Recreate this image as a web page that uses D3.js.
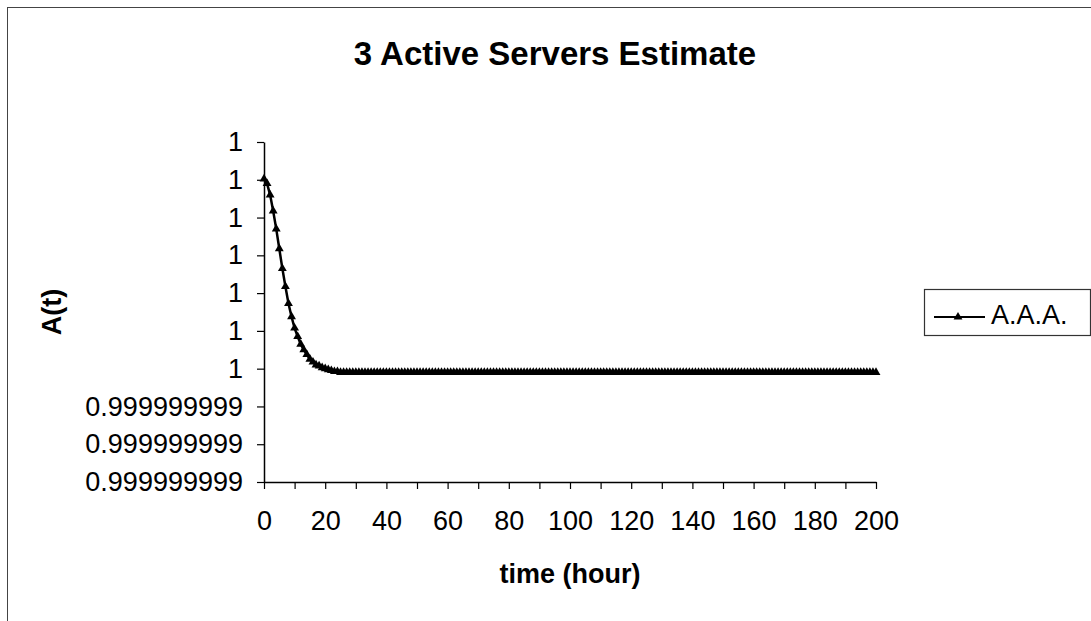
<!DOCTYPE html>
<html>
<head>
<meta charset="utf-8">
<script src="https://cdn.jsdelivr.net/npm/d3@7"></script>
<style>
  body { margin: 0; background: #fff; }
  svg text { font-family: "Liberation Sans", Arial, sans-serif; fill: #000; }
</style>
</head>
<body>
<div id="grafica"></div>
<script>
// hours on the x axis (one reading per hour)
var hours = [
  0, 1, 2, 3, 4, 5, 6, 7, 8, 9, 10, 11, 12, 13, 14, 15, 16, 17, 18, 19,
  20, 21, 22, 23, 24, 25, 26, 27, 28, 29, 30, 31, 32, 33, 34, 35, 36, 37, 38, 39,
  40, 41, 42, 43, 44, 45, 46, 47, 48, 49, 50, 51, 52, 53, 54, 55, 56, 57, 58, 59,
  60, 61, 62, 63, 64, 65, 66, 67, 68, 69, 70, 71, 72, 73, 74, 75, 76, 77, 78, 79,
  80, 81, 82, 83, 84, 85, 86, 87, 88, 89, 90, 91, 92, 93, 94, 95, 96, 97, 98, 99,
  100, 101, 102, 103, 104, 105, 106, 107, 108, 109, 110, 111, 112, 113, 114, 115, 116, 117, 118, 119,
  120, 121, 122, 123, 124, 125, 126, 127, 128, 129, 130, 131, 132, 133, 134, 135, 136, 137, 138, 139,
  140, 141, 142, 143, 144, 145, 146, 147, 148, 149, 150, 151, 152, 153, 154, 155, 156, 157, 158, 159,
  160, 161, 162, 163, 164, 165, 166, 167, 168, 169, 170, 171, 172, 173, 174, 175, 176, 177, 178, 179,
  180, 181, 182, 183, 184, 185, 186, 187, 188, 189, 190, 191, 192, 193, 194, 195, 196, 197, 198, 199,
  200
];

// A(t) for the "A.A.A." series, 10 values per row (hours 0-9, 10-19, ...)
var availability = [
  0.999999999721, 0.999999999716, 0.999999999704, 0.999999999687, 0.999999999668, 0.999999999647, 0.999999999626, 0.999999999607, 0.999999999589, 0.999999999575,
  0.999999999563, 0.999999999554, 0.999999999546, 0.999999999540, 0.999999999535, 0.999999999530, 0.999999999527, 0.999999999524, 0.999999999523, 0.999999999521,
  0.999999999520, 0.999999999519, 0.999999999518, 0.999999999517, 0.999999999517, 0.999999999516, 0.999999999516, 0.999999999516, 0.999999999516, 0.999999999516,
  0.999999999516, 0.999999999516, 0.999999999516, 0.999999999516, 0.999999999516, 0.999999999516, 0.999999999516, 0.999999999516, 0.999999999516, 0.999999999516,
  0.999999999516, 0.999999999516, 0.999999999516, 0.999999999516, 0.999999999516, 0.999999999516, 0.999999999516, 0.999999999516, 0.999999999516, 0.999999999516,
  0.999999999516, 0.999999999516, 0.999999999516, 0.999999999516, 0.999999999516, 0.999999999516, 0.999999999516, 0.999999999516, 0.999999999516, 0.999999999516,
  0.999999999516, 0.999999999516, 0.999999999516, 0.999999999516, 0.999999999516, 0.999999999516, 0.999999999516, 0.999999999516, 0.999999999516, 0.999999999516,
  0.999999999516, 0.999999999516, 0.999999999516, 0.999999999516, 0.999999999516, 0.999999999516, 0.999999999516, 0.999999999516, 0.999999999516, 0.999999999516,
  0.999999999516, 0.999999999516, 0.999999999516, 0.999999999516, 0.999999999516, 0.999999999516, 0.999999999516, 0.999999999516, 0.999999999516, 0.999999999516,
  0.999999999516, 0.999999999516, 0.999999999516, 0.999999999516, 0.999999999516, 0.999999999516, 0.999999999516, 0.999999999516, 0.999999999516, 0.999999999516,
  0.999999999516, 0.999999999516, 0.999999999516, 0.999999999516, 0.999999999516, 0.999999999516, 0.999999999516, 0.999999999516, 0.999999999516, 0.999999999516,
  0.999999999516, 0.999999999516, 0.999999999516, 0.999999999516, 0.999999999516, 0.999999999516, 0.999999999516, 0.999999999516, 0.999999999516, 0.999999999516,
  0.999999999516, 0.999999999516, 0.999999999516, 0.999999999516, 0.999999999516, 0.999999999516, 0.999999999516, 0.999999999516, 0.999999999516, 0.999999999516,
  0.999999999516, 0.999999999516, 0.999999999516, 0.999999999516, 0.999999999516, 0.999999999516, 0.999999999516, 0.999999999516, 0.999999999516, 0.999999999516,
  0.999999999516, 0.999999999516, 0.999999999516, 0.999999999516, 0.999999999516, 0.999999999516, 0.999999999516, 0.999999999516, 0.999999999516, 0.999999999516,
  0.999999999516, 0.999999999516, 0.999999999516, 0.999999999516, 0.999999999516, 0.999999999516, 0.999999999516, 0.999999999516, 0.999999999516, 0.999999999516,
  0.999999999516, 0.999999999516, 0.999999999516, 0.999999999516, 0.999999999516, 0.999999999516, 0.999999999516, 0.999999999516, 0.999999999516, 0.999999999516,
  0.999999999516, 0.999999999516, 0.999999999516, 0.999999999516, 0.999999999516, 0.999999999516, 0.999999999516, 0.999999999516, 0.999999999516, 0.999999999516,
  0.999999999516, 0.999999999516, 0.999999999516, 0.999999999516, 0.999999999516, 0.999999999516, 0.999999999516, 0.999999999516, 0.999999999516, 0.999999999516,
  0.999999999516, 0.999999999516, 0.999999999516, 0.999999999516, 0.999999999516, 0.999999999516, 0.999999999516, 0.999999999516, 0.999999999516, 0.999999999516,
  0.999999999516
];

var xTicks = [0, 10, 20, 30, 40, 50, 60, 70, 80, 90, 100, 110, 120, 130, 140, 150, 160, 170, 180, 190, 200];
var yTicks = [0.9999999994, 0.99999999944, 0.99999999948, 0.99999999952, 0.99999999956,
              0.9999999996, 0.99999999964, 0.99999999968, 0.99999999972, 0.99999999976];

var title = "3 Active Servers Estimate";
var seriesName = "A.A.A.";

var width = 1091,
    height = 621;
var plot = { left: 264, right: 876, top: 142, bottom: 482 };

var svg = d3.select("#grafica")
            .append("svg")
            .attr("width", width)
            .attr("height", height);

// chart frame
svg.append("rect")
    .attr("x", 7.5)
    .attr("y", 7.5)
    .attr("width", 1200)
    .attr("height", 800)
    .style("fill", "none")
    .style("stroke", "#444")
    .style("stroke-width", 1);

var x = d3.scaleLinear().domain([0, 200]).range([plot.left, plot.right]);
var y = d3.scaleLinear().domain([yTicks[0], yTicks[yTicks.length - 1]]).range([plot.bottom, plot.top]);

// excel "General" style: 9 decimals, trailing zeros dropped
var fmtY = function(v) { return String(parseFloat(v.toFixed(9))); };

var xAxis = svg.append("g")
    .attr("transform", "translate(0," + plot.bottom + ")")
    .call(d3.axisBottom(x)
        .tickValues(xTicks)
        .tickSize(7)
        .tickPadding(22)
        .tickSizeOuter(0)
        .tickFormat(function(d) { return d % 20 === 0 ? d : ""; }));

var yAxis = svg.append("g")
    .attr("transform", "translate(" + plot.left + ",0)")
    .call(d3.axisLeft(y)
        .tickValues(yTicks)
        .tickSize(7)
        .tickPadding(14)
        .tickSizeOuter(0)
        .tickFormat(fmtY));

[xAxis, yAxis].forEach(function(g) {
    g.select(".domain").style("stroke", "#000").style("stroke-width", 1.5);
    g.selectAll(".tick line").style("stroke", "#000").style("stroke-width", 1.2);
    g.selectAll(".tick text")
        .style("font-family", "'Liberation Sans', Arial, sans-serif")
        .style("font-size", "27px")
        .style("fill", "#000");
});

// series
var points = hours.map(function(h, i) { return { t: h, a: availability[i] }; });

var line = d3.line()
    .x(function(d) { return x(d.t); })
    .y(function(d) { return y(d.a); });

svg.append("path")
    .datum(points)
    .attr("d", line)
    .style("fill", "none")
    .style("stroke", "#000")
    .style("stroke-width", 2.5);

var tri = d3.symbol().type(d3.symbolTriangle).size(34);

svg.selectAll(".marker")
    .data(points)
    .enter()
    .append("path")
    .attr("class", "marker")
    .attr("d", tri)
    .attr("transform", function(d) { return "translate(" + x(d.t) + "," + y(d.a) + ")"; })
    .style("fill", "#000");

// titles
svg.append("text")
    .attr("x", 555)
    .attr("y", 65)
    .attr("text-anchor", "middle")
    .style("font-size", "33px")
    .style("font-weight", "bold")
    .text(title);

svg.append("text")
    .attr("x", (plot.left + plot.right) / 2)
    .attr("y", 583)
    .attr("text-anchor", "middle")
    .style("font-size", "27px")
    .style("font-weight", "bold")
    .text("time (hour)");

svg.append("text")
    .attr("transform", "translate(61," + (plot.top + plot.bottom) / 2 + ") rotate(-90)")
    .attr("text-anchor", "middle")
    .style("font-size", "27px")
    .style("font-weight", "bold")
    .text("A(t)");

// legend
var legend = svg.append("g").attr("transform", "translate(924,289)");
legend.append("rect")
    .attr("x", 0.5)
    .attr("y", 0.5)
    .attr("width", 166)
    .attr("height", 46)
    .style("fill", "#fff")
    .style("stroke", "#333")
    .style("stroke-width", 1.2);
legend.append("line")
    .attr("x1", 10).attr("x2", 61)
    .attr("y1", 28).attr("y2", 28)
    .style("stroke", "#000")
    .style("stroke-width", 2);
legend.append("path")
    .attr("d", tri)
    .attr("transform", "translate(34,28)")
    .style("fill", "#000");
legend.append("text")
    .attr("x", 67)
    .attr("y", 35)
    .style("font-size", "27px")
    .text(seriesName);
</script>
</body>
</html>
